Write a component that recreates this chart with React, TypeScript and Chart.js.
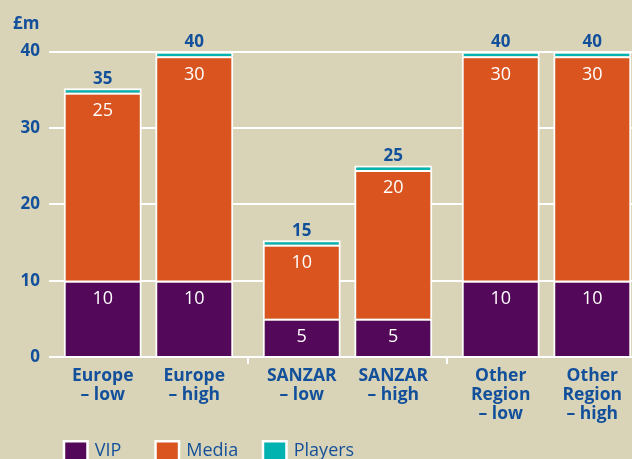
import React, { useEffect, useRef } from 'react';
import { Chart, registerables } from 'chart.js';

Chart.register(...registerables);

// ---- data ----
const groups = ['Europe', 'SANZAR', 'Other Region'];
const lowLabels = [['Europe', '– low'], ['SANZAR', '– low'], ['Other', 'Region', '– low']];
const highLabels = [['Europe', '– high'], ['SANZAR', '– high'], ['Other', 'Region', '– high']];
const vipLow = [10, 5, 10];
const mediaLow = [24.6, 9.7, 29.4];
const playersLow = [0.6, 0.6, 0.6];
const vipHigh = [10, 5, 10];
const mediaHigh = [29.4, 19.5, 29.4];
const playersHigh = [0.6, 0.6, 0.6];
const mediaLabelLow = [25, 10, 30];
const mediaLabelHigh = [30, 20, 30];
const totalLow = [35, 15, 40];
const totalHigh = [40, 25, 40];
const yTicks = [0, 10, 20, 30, 40];
const seriesNames = ['VIP', 'Media', 'Players'];
const seriesColors = ['#54085a', '#d9541e', '#00b2b0'];

const FONT = '"Open Sans", "Noto Sans", sans-serif';
const BLUE = '#13509b';
const BG = '#d9d4b7';

const labelPlugin = {
  id: 'customLabels',
  afterDatasetsDraw(chart: any) {
    const ctx = chart.ctx;
    const area = chart.chartArea;
    ctx.save();
    ctx.textAlign = 'center';
    ctx.textBaseline = 'alphabetic';
    const stacks = [
      { base: 0, vip: vipLow, med: mediaLabelLow, tot: totalLow, names: lowLabels },
      { base: 3, vip: vipHigh, med: mediaLabelHigh, tot: totalHigh, names: highLabels },
    ];
    const bars: { left: number }[] = [];
    stacks.forEach((s) => {
      const vipMeta = chart.getDatasetMeta(s.base);
      const medMeta = chart.getDatasetMeta(s.base + 1);
      const plMeta = chart.getDatasetMeta(s.base + 2);
      vipMeta.data.forEach((el: any, i: number) => {
        const x = el.x;
        bars.push({ left: el.x - el.width / 2 });
        ctx.fillStyle = '#ffffff';
        ctx.font = `400 18px ${FONT}`;
        ctx.fillText(String(s.vip[i]), x, el.y + 23);
        const m = medMeta.data[i];
        ctx.fillText(String(s.med[i]), x, m.y + 23.5);
        const p = plMeta.data[i];
        ctx.fillStyle = BLUE;
        ctx.font = `700 17px ${FONT}`;
        ctx.fillText(String(s.tot[i]), x, p.y - 4.5);
        ctx.font = `700 17.5px ${FONT}`;
        s.names[i].forEach((line: string, k: number) => {
          ctx.fillText(line, x, area.bottom + 23.5 + k * 19);
        });
      });
    });
    // £m unit label
    ctx.textAlign = 'left';
    ctx.fillStyle = BLUE;
    ctx.font = `700 17px ${FONT}`;
    ctx.fillText('£m', area.left - 36, area.top - 15);
    // legend aligned with first bars
    bars.sort((a, b) => a.left - b.left);
    seriesNames.forEach((name, i) => {
      const bx = bars[i].left - 1;
      const by = area.bottom + 83;
      ctx.fillStyle = '#ffffff';
      ctx.fillRect(bx, by, 26, 26);
      ctx.fillStyle = seriesColors[i];
      ctx.fillRect(bx + 2.5, by + 2.5, 21, 21);
      ctx.fillStyle = BLUE;
      ctx.font = `400 18px ${FONT}`;
      ctx.fillText(name, bx + 32, by + 16);
    });
    ctx.restore();
  },
};

export default function App() {
  const ref = useRef<HTMLCanvasElement>(null);
  useEffect(() => {
    if (!ref.current) return;
    const mk = (label: string, data: number[], color: string, stack: string) => ({
      label,
      data,
      stack,
      backgroundColor: color,
      borderColor: '#ffffff',
      borderWidth: 2,
      borderSkipped: 'start',
    });
    const chart = new Chart(ref.current, {
      type: 'bar',
      data: {
        labels: groups,
        datasets: [
          mk('VIP', vipLow, seriesColors[0], 'low'),
          mk('Media', mediaLow, seriesColors[1], 'low'),
          mk('Players', playersLow, seriesColors[2], 'low'),
          mk('VIP', vipHigh, seriesColors[0], 'high'),
          mk('Media', mediaHigh, seriesColors[1], 'high'),
          mk('Players', playersHigh, seriesColors[2], 'high'),
        ] as any,
      },
      options: {
        responsive: false,
        animation: false,
        layout: { padding: { top: 44, left: 0, right: 0, bottom: 0 } },
        datasets: { bar: { categoryPercentage: 0.92, barPercentage: 0.852 } },
        plugins: { legend: { display: false }, tooltip: { enabled: false } },
        scales: {
          x: {
            type: 'category',
            stacked: true,
            offset: true,
            ticks: { display: false },
            border: { display: false },
            grid: {
              offset: true,
              drawOnChartArea: false,
              drawTicks: true,
              tickLength: 7,
              lineWidth: 2,
              color: (c: any) => (c.index === 1 || c.index === 2 ? '#ffffff' : 'rgba(0,0,0,0)'),
            },
            afterFit: (s: any) => {
              s.height = 102;
            },
          },
          y: {
            stacked: true,
            min: 0,
            max: 41,
            afterBuildTicks: (s: any) => {
              s.ticks = yTicks.map((v) => ({ value: v }));
            },
            afterFit: (s: any) => {
              s.width = 49;
            },
            ticks: {
              padding: 9,
              color: BLUE,
              font: { family: FONT, size: 17, weight: 'bold' },
            },
            grid: { color: '#ffffff', lineWidth: 2, drawTicks: false },
            border: { display: false },
          },
        },
      } as any,
      plugins: [labelPlugin],
    });
    return () => chart.destroy();
  }, []);
  return (
    <div
      style={{
        position: 'fixed',
        left: 0,
        top: 0,
        width: 632,
        height: 459,
        overflow: 'hidden',
        background: BG,
      }}
    >
      <canvas ref={ref} width={646} height={459} style={{ display: 'block' }} />
    </div>
  );
}
